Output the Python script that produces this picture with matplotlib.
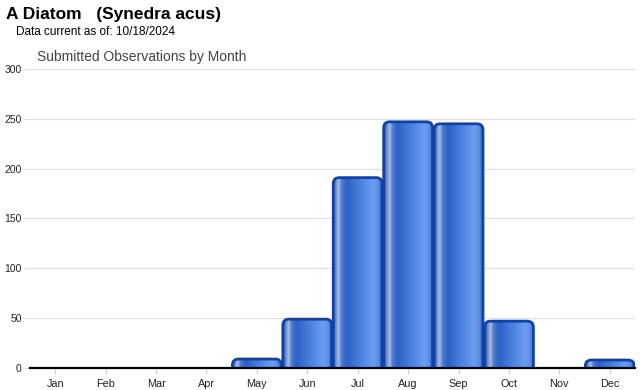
import numpy as np
import matplotlib
matplotlib.use("Agg")
import matplotlib.pyplot as plt
from matplotlib.patches import FancyBboxPatch
from matplotlib.colors import LinearSegmentedColormap

months = ['Jan', 'Feb', 'Mar', 'Apr', 'May', 'Jun', 'Jul', 'Aug', 'Sep', 'Oct', 'Nov', 'Dec']
counts = [0, 0, 0, 0, 9, 49, 191, 247, 245, 47, 0, 8]
yticks = [0, 50, 100, 150, 200, 250, 300]

plt.rcParams['font.family'] = ['Liberation Sans', 'DejaVu Sans']

fig = plt.figure(figsize=(6.4, 3.9), dpi=100)
ax = fig.add_axes([30/640, 1 - 368/390, 605/640, 299/390])

x = np.arange(len(months))
bars = ax.bar(x, counts, width=0.97, color='none', edgecolor='none')

ax.set_xlim(-0.5, len(months) - 0.5)
ax.set_ylim(0, 300)
ax.set_yticks(yticks)
ax.set_xticks(x)
ax.set_xticklabels(months)
ax.grid(axis='y', color='#e0e0e0', linewidth=0.9)
ax.set_axisbelow(True)
for s in ['top', 'right', 'left']:
    ax.spines[s].set_visible(False)
ax.spines['bottom'].set_linewidth(1.6)
ax.spines['bottom'].set_zorder(5)
ax.tick_params(axis='y', length=5, color='#e0e0e0', labelsize=7.5, pad=1, labelcolor='#222222')
ax.tick_params(axis='x', length=4, color='#d0d0d0', labelsize=7.8, pad=4, labelcolor='#222222')

# cylinder-like horizontal gradient
grad = LinearSegmentedColormap.from_list('cyl', [
    (0.0, '#1d4fb4'), (0.06, '#6f8fd0'), (0.11, '#a9bde2'), (0.18, '#4d79d0'),
    (0.28, '#2d60c6'), (0.6, '#4f85e2'), (0.82, '#6c9df0'), (0.93, '#5b8ee6'), (1.0, '#2a5bc0')])
row = np.linspace(0, 1, 256).reshape(1, -1)

fig.canvas.draw()
p0 = ax.transData.transform((0, 0))
p1 = ax.transData.transform((1, 1))
aspect = (p1[0] - p0[0]) / (p1[1] - p0[1])

for b in bars:
    h = b.get_height()
    if h <= 0:
        continue
    bx, bw = b.get_x(), b.get_width()
    patch = FancyBboxPatch((bx, -8), bw, h + 8,
                           boxstyle='round,pad=0,rounding_size=0.12',
                           mutation_aspect=aspect,
                           facecolor='none', edgecolor='#0f42a6', linewidth=2.0, zorder=3)
    ax.add_patch(patch)
    im = ax.imshow(row, cmap=grad, aspect='auto', extent=(bx, bx + bw, -8, h), zorder=2,
                   interpolation='bilinear')
    im.set_clip_path(patch)

ax.set_xlim(-0.5, len(months) - 0.5)
ax.set_ylim(0, 300)

fig.text(6/640, 1 - 15/390, 'A Diatom   (Synedra acus)', fontsize=12.5, fontweight='bold',
         va='center', ha='left', color='black')
fig.text(16/640, 1 - 32/390, 'Data current as of: 10/18/2024', fontsize=8.5,
         va='center', ha='left', color='black')
fig.text(37/640, 1 - 57/390, 'Submitted Observations by Month', fontsize=10,
         va='center', ha='left', color='#444444')

fig.savefig('out.png', dpi=100)
